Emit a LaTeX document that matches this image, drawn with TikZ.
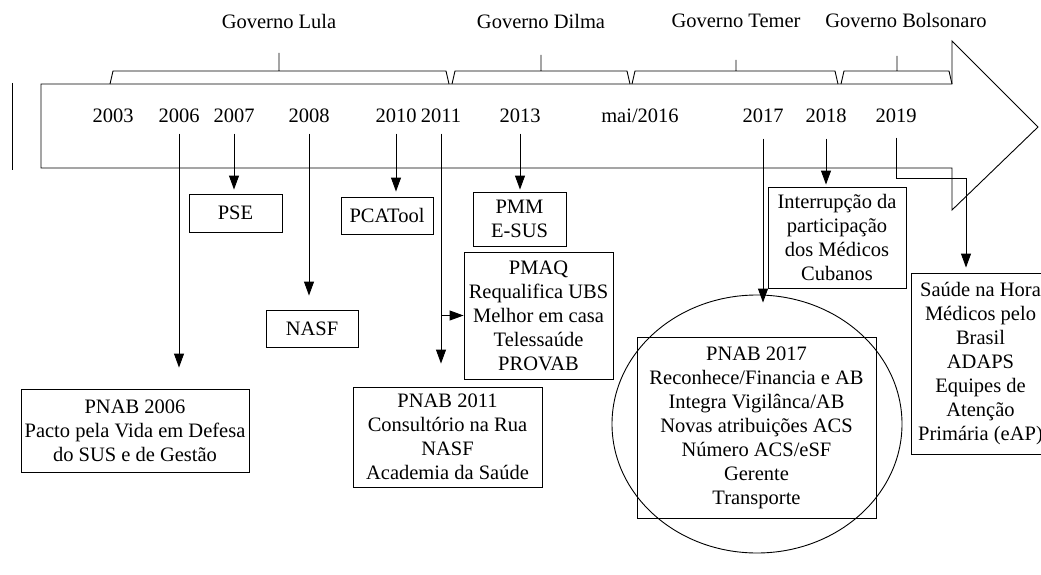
\documentclass[tikz,border=0pt]{standalone}
\usepackage{fontspec}
\setmainfont{Liberation Serif}
\usetikzlibrary{arrows.meta,shapes.geometric}
\tikzset{
  box/.style={draw, align=center, inner sep=0pt},
  yr/.style={anchor=base, inner sep=2pt},
  gov/.style={anchor=base},
  link/.style={->, shorten <=8pt},
}
\begin{document}
\begin{tikzpicture}[x=1pt, y=-1pt, >={Triangle[length=14pt,width=10pt]}, line width=.9pt, font=\fontsize{20.5}{24}\selectfont]
	\useasboundingbox (0,0) rectangle (1041,575);
	\clip (0,0) rectangle (1041,575);
	% seta do tempo
	\draw (12,83)--(12,170);
	\draw (41,84)--(952,84)--(952,41)--(1038,127)--(952,210)--(952,168)--(41,168)--cycle;
	% governos
	\foreach \a/\b/\m/\t in {110/449/279/53, 452/630/541/55, 632/838/736/60, 841/952/897/56}
		\draw (\a,84)--(\a+3,71)--(\b-3,71)--(\b,84) (\m,71)--(\m,\t);
	\node[gov] (lula) at (279,29) {Governo Lula};
	\node[gov] (dilma) at (541,29) {Governo Dilma};
	\node[gov] (temer) at (736,28) {Governo Temer};
	\node[gov] (bolso) at (906,28) {Governo Bolsonaro};
	% anos
	\foreach \n/\x in {2003/113, 2006/179, 2007/234, 2008/309, 2010/396, 2011/441, 2013/520, 2017/763, 2018/826, 2019/896}
		\node[yr] (y\n) at (\x,123) {\n};
	\node[yr] (y2016) at (640,123) {mai/2016};
	% caixas
	\node[box, minimum width=93pt, minimum height=38pt] (pse) at (235.5,213) {PSE};
	\node[box, minimum width=92pt, minimum height=37pt] (pcatool) at (387,215.5) {PCATool};
	\node[box, minimum width=92pt, minimum height=37pt] (nasf) at (312,328.5) {NASF};
	\node[box, minimum width=228pt, minimum height=83pt] (pnab06) at (135,430.5) {PNAB 2006\\Pacto pela Vida em Defesa\\do SUS e de Gestão};
	\node[box, minimum width=189pt, minimum height=100pt] (pnab11) at (447.5,437) {PNAB 2011\\Consultório na Rua\\NASF\\Academia da Saúde};
	\node[box, minimum width=93pt, minimum height=54pt] (pmm) at (519.5,219) {PMM\\E-SUS};
	\node[box, minimum width=149pt, minimum height=127pt] (pmaq) at (538.5,315.5) {PMAQ\\Requalifica UBS\\Melhor em casa\\Telessaúde\\PROVAB};
	\node[box, minimum width=138pt, minimum height=101pt] (interr) at (837,237.5) {Interrupção da\\participação\\dos Médicos\\Cubanos};
	\node[box, minimum width=239pt, minimum height=181pt] (pnab17) at (756.5,427.5) {PNAB 2017\\Reconhece/Financia e AB\\Integra Vigilânca/AB\\Novas atribuições ACS\\Número ACS/eSF\\Gerente\\Transporte};
	\node[draw, ellipse, inner sep=0pt, minimum width=290pt, minimum height=258pt] (circ) at (757,424) {};
	\node[box, minimum width=139pt, minimum height=181pt] (saude) at (980.5,363.5) {Saúde na Hora\\Médicos pelo\\Brasil\\ADAPS\\Equipes de\\Atenção\\Primária (eAP)};
	% ligacoes
	\draw[link, shorten >=21pt] (y2006.south) -- (y2006.south |- pnab06.north);
	\draw[link, shorten >=4pt] (y2007.south) -- (y2007.south |- pse.north);
	\draw[link, shorten >=14pt] (y2008.south) -- (y2008.south |- nasf.north);
	\draw[link, shorten >=5pt] (y2010.south) -- (y2010.south |- pcatool.north);
	\draw[link, shorten >=23pt] (y2011.south) -- (y2011.south |- pnab11.north);
	\draw[->] (y2011.south |- pmaq.west) -- (pmaq.west);
	\draw[link, shorten >=2pt] (y2013.south) -- (y2013.south |- pmm.north);
	\draw[link, shorten <=13pt, shorten >=-8pt] (y2017.south) -- (y2017.south |- circ.north);
	\draw[link, shorten <=13pt, shorten >=2pt] (y2018.south) -- (y2018.south |- interr.north);
	\coordinate (bend19) at (966,178);
	\draw[link, shorten <=12pt, shorten >=5pt] (y2019.south) |- (bend19) -- (bend19 |- saude.north);
\end{tikzpicture}
\end{document}
